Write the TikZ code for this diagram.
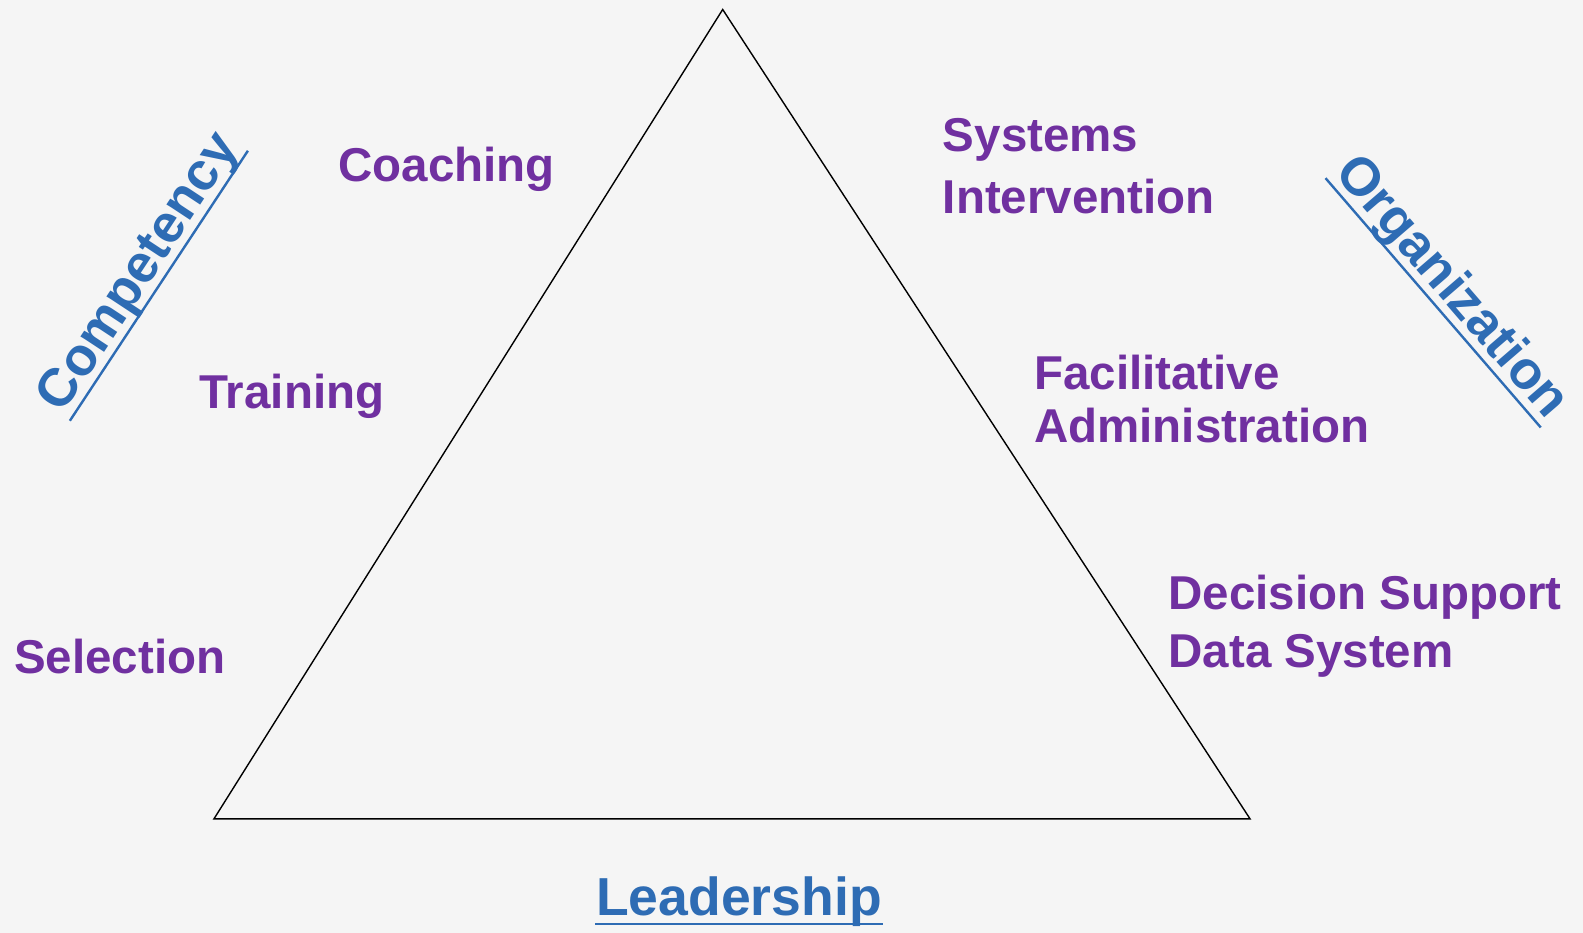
\documentclass[tikz,border=0pt]{standalone}
\usepackage{fontspec}
\setmainfont{Liberation Sans}
\usepackage{tikz}
\usetikzlibrary{calc}
\definecolor{itempurple}{RGB}{112,48,160}
\definecolor{axisblue}{RGB}{46,108,180}
\definecolor{paper}{RGB}{245,245,245}
\tikzset{
	item/.style={text=itempurple, anchor=base west, inner sep=0pt, align=left,
		font=\bfseries\fontsize{47.5}{58}\selectfont},
	axis/.style={text=axisblue, anchor=base, inner xsep=1pt, inner ysep=9pt, text depth=0pt,
		font=\bfseries\fontsize{53.5}{60}\selectfont},
	uline/.style={draw=axisblue, line width=2.4pt}
}

\begin{document}
\begin{tikzpicture}[x=1pt, y=-1pt]
			%%%%% START %%%%%
			\fill[paper] (0, 0) rectangle (1583, 933);
			\useasboundingbox (0, 0) rectangle (1583, 933);
			
			% the triangle
			\coordinate (top) at (722.7, 9.5);
			\coordinate (left) at (214, 818.8);
			\coordinate (right) at (1250, 818.8);
			\draw[line width=1.4pt, line join=miter] (top) -- (right) -- (left) -- cycle;
			
			% left side
			\node[item] (coaching) at (338.3, 181.7) {Coaching};
			\node[item] (training) at (199.3, 408.3) {Training};
			\node[item] (selection) at (14, 673.3) {Selection};
			
			% right side (base = last line)
			\node[item] (systems) at (942.7, 213.3) {Systems\\[3.6pt]Intervention};
			\node[item] (facil) at (1034, 442.7) {Facilitative\\[-5pt]Administration};
			\node[item] (decision) at (1168.3, 667.3) {Decision Support\\Data System};
			
			% the three axes
			\node[axis, rotate=56.6] (competency) at (151.2, 280.7) {Competency};
			\draw[uline] (competency.south west) -- (competency.south east);
			
			\node[axis, rotate=-49.2] (organization) at (1440.1, 296.8) {Organization};
			\draw[uline] (organization.south west) -- (organization.south east);
			
			\node[axis] (leadership) at (739, 915) {Leadership};
			\draw[uline] (leadership.south west) -- (leadership.south east);
			%%%%% END %%%%%
\end{tikzpicture}
\end{document}
